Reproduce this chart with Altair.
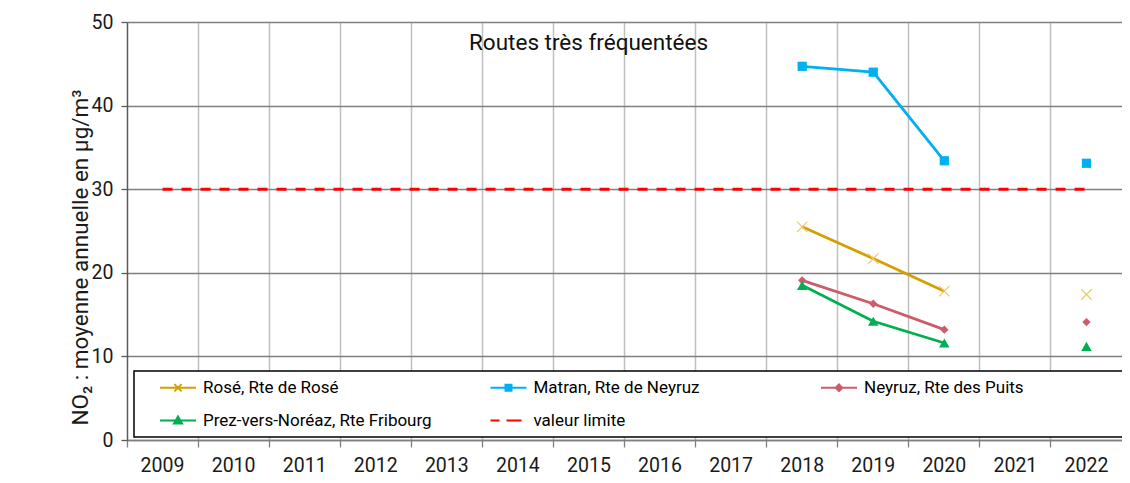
import altair as alt
import pandas as pd

# ---- data ----
years = list(range(2009, 2023))
measure_years = [2018, 2019, 2020, 2022]
series_names = [
    "Rosé, Rte de Rosé",
    "Matran, Rte de Neyruz",
    "Neyruz, Rte des Puits",
    "Prez-vers-Noréaz, Rte Fribourg",
]
rose = [25.5, 21.7, 17.8, 17.4]
matran = [44.7, 44.0, 33.4, 33.1]
neyruz = [19.1, 16.3, 13.2, 14.1]
prez = [18.5, 14.2, 11.6, 11.2]
limit_name = "valeur limite"
limit_value = 30
chart_title = "Routes très fréquentées"
y_title = "NO₂ : moyenne annuelle en µg/m³"
y_ticks = [0, 10, 20, 30, 40, 50]

values = [rose, matran, neyruz, prez]

rows = []
for name, vals in zip(series_names, values):
    for yr, v in zip(measure_years, vals):
        rows.append({"series": name, "year": yr, "value": v,
                     "seg": "a" if yr <= 2020 else "b"})
df = pd.DataFrame(rows)
limit_df = pd.DataFrame({"series": limit_name, "year": years,
                         "value": [limit_value] * len(years)})

# ---- styles ----
line_colors = ["#D4A000", "#00B0F0", "#CC5B6B", "#00B050"]
limit_color = "#FF0000"
marker_styles = [
    dict(shape="M-1,-1L1,1M-1,1L1,-1", size=110, filled=False, color="#F2C46E", strokeWidth=1.2),
    dict(shape="square", size=85, filled=True, color="#00B0F0"),
    dict(shape="diamond", size=70, filled=True, color="#CC5B6B"),
    dict(shape="triangle-up", size=110, filled=True, color="#00B050"),
]
legend_paths = [
    "M-3.6,0H3.6M-0.72,-0.72L0.72,0.72M-0.72,0.72L0.72,-0.72",
    "M-3.6,0H3.6M-0.6,-0.6H0.6V0.6H-0.6Z",
    "M-3.6,0H3.6M0,-0.66L0.66,0L0,0.66L-0.66,0Z M55,0L55,0",
    "M-3.6,0H3.6M0,-0.8L0.8,0.6L-0.8,0.6Z",
    "M-3.6,0H-1.8M-0.4,0H2.6",
]

W, H = 995, 418

x_enc = alt.X(
    "year:O",
    scale=alt.Scale(type="band", domain=years, paddingInner=0, paddingOuter=0),
    axis=alt.Axis(bandPosition=0, labelAngle=0, grid=True, tickSize=7, labelPadding=9),
    title=None,
)
y_enc = alt.Y(
    "value:Q",
    scale=alt.Scale(domain=[0, 50]),
    axis=alt.Axis(values=y_ticks, grid=True, tickSize=6, labelPadding=8,
                  titleX=-47, titleY=235, titleBaseline="middle", titleAngle=270),
    title=y_title,
)

layers = []
layers.append(
    alt.Chart(limit_df).mark_line(color=limit_color, strokeWidth=3, strokeDash=[10, 9])
    .encode(x=x_enc, y=y_enc)
)
for name, col, ms in zip(series_names, line_colors, marker_styles):
    sub = df[df["series"] == name]
    layers.append(
        alt.Chart(sub).mark_line(color=col, strokeWidth=2.8)
        .encode(x=x_enc, y=y_enc, detail="seg:N")
    )
    layers.append(
        alt.Chart(sub).mark_point(opacity=1, **ms).encode(x=x_enc, y=y_enc)
    )

legend_domain = series_names + [limit_name]
legend_colors = line_colors + [limit_color]
leg = alt.Legend(
    title=None, orient="none", legendX=7, legendY=349, columns=3,
    direction="horizontal", symbolOpacity=1,
)
legend_layer = alt.Chart(df).mark_point(filled=True, opacity=0).encode(
    x=x_enc, y=y_enc,
    color=alt.Color("series:N", scale=alt.Scale(domain=legend_domain, range=legend_colors), legend=leg),
    stroke=alt.Stroke("series:N", scale=alt.Scale(domain=legend_domain, range=legend_colors), legend=leg),
    shape=alt.Shape("series:N", scale=alt.Scale(domain=legend_domain, range=legend_paths), legend=leg),
)
layers.append(legend_layer)

chart = alt.layer(*layers).properties(
    width=W, height=H,
    autosize=alt.AutoSizeParams(type="none"),
    padding={"left": 119, "top": 14, "right": 0, "bottom": 35},
    title=alt.TitleParams(chart_title, anchor="middle", frame="group", dx=-36, dy=31,
                          offset=-22, baseline="middle", fontSize=22.5, fontWeight="normal",
                          font="Roboto", color="#111111"),
).configure(font="Roboto").configure_view(stroke="transparent").configure_axis(
    labelFont="Roboto", labelFontSize=19.5, labelColor="#1a1a1a",
    titleFont="Roboto", titleFontSize=22.5, titleFontWeight="normal", titleColor="#1a1a1a",
).configure_axisX(
    gridColor="#BFBFBF", gridWidth=1.5, gridOpacity=1,
    domainColor="#7F7F7F", domainWidth=1.3, tickColor="#7F7F7F", tickWidth=1.3,
).configure_axisY(
    gridColor="#7F7F7F", gridWidth=1.3, gridOpacity=1,
    domainColor="#595959", domainWidth=1.3, tickColor="#595959", tickWidth=1.3,
).configure_legend(
    strokeColor="#000000", strokeWidth=1.5, fillColor="#FFFFFF", padding=8,
    labelFont="Roboto", labelFontSize=17, labelColor="#000000", labelLimit=600,
    symbolSize=100, symbolStrokeWidth=2, symbolOffset=27.5, columnPadding=15.5,
    rowPadding=15, gridAlign="all", labelOffset=16.5,
)

chart.save("out.html", embed_options={"renderer": "svg", "actions": False})
